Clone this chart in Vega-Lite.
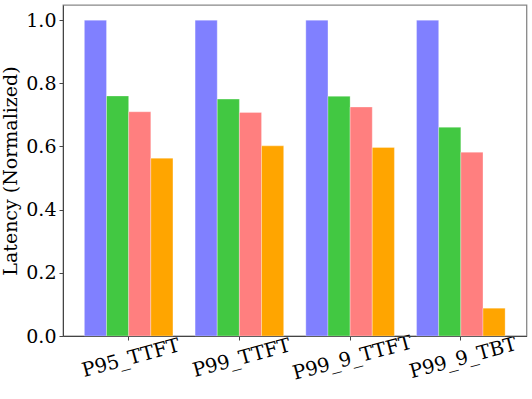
{
  "$schema": "https://vega.github.io/schema/vega-lite/v6.json",
  "autosize": {"type": "none"},
  "padding": {"left": 63, "top": 5, "right": 5, "bottom": 63},
  "width": 463.5,
  "height": 331,
  "background": "white",
  "config": {
    "font": "DejaVu Serif",
    "view": {"stroke": "#888888", "strokeWidth": 1.3},
    "axis": {"grid": false, "domainColor": "#444444", "tickColor": "#444444", "labelColor": "black", "titleColor": "black", "labelFont": "DejaVu Serif", "titleFont": "DejaVu Serif"}
  },
  "data": {
    "values": [
      {"metric": "P95_TTFT", "system": "S1", "value": 1.0},
      {"metric": "P95_TTFT", "system": "S2", "value": 0.76},
      {"metric": "P95_TTFT", "system": "S3", "value": 0.71},
      {"metric": "P95_TTFT", "system": "S4", "value": 0.563},
      {"metric": "P99_TTFT", "system": "S1", "value": 1.0},
      {"metric": "P99_TTFT", "system": "S2", "value": 0.75},
      {"metric": "P99_TTFT", "system": "S3", "value": 0.708},
      {"metric": "P99_TTFT", "system": "S4", "value": 0.602},
      {"metric": "P99_9_TTFT", "system": "S1", "value": 1.0},
      {"metric": "P99_9_TTFT", "system": "S2", "value": 0.759},
      {"metric": "P99_9_TTFT", "system": "S3", "value": 0.725},
      {"metric": "P99_9_TTFT", "system": "S4", "value": 0.597},
      {"metric": "P99_9_TBT", "system": "S1", "value": 1.0},
      {"metric": "P99_9_TBT", "system": "S2", "value": 0.661},
      {"metric": "P99_9_TBT", "system": "S3", "value": 0.582},
      {"metric": "P99_9_TBT", "system": "S4", "value": 0.088}
    ]
  },
  "mark": {"type": "bar", "stroke": "white", "strokeWidth": 0.6, "strokeOpacity": 0.5},
  "encoding": {
    "x": {
      "field": "metric", "type": "nominal", "sort": null,
      "scale": {"paddingInner": 0.2, "paddingOuter": 0.193},
      "axis": {"title": null, "labelAngle": -15, "labelAlign": "center", "labelBaseline": "top", "labelFontSize": 19.5, "labelPadding": 9, "tickSize": 4, "domain": true}
    },
    "xOffset": {"field": "system", "type": "nominal", "sort": null, "scale": {"paddingInner": 0, "paddingOuter": 0}},
    "y": {
      "field": "value", "type": "quantitative",
      "scale": {"domain": [0, 1.048], "nice": false},
      "axis": {"title": "Latency (Normalized)", "values": [0, 0.2, 0.4, 0.6, 0.8, 1.0], "format": ".1f", "labelFontSize": 19, "titleFontSize": 19, "titleFontWeight": "normal", "tickSize": 4, "labelPadding": 3, "titlePadding": 5}
    },
    "color": {
      "field": "system", "type": "nominal", "sort": null,
      "scale": {"range": ["#8080FF", "#42C842", "#FF7F7F", "#FFA500"]},
      "legend": null
    }
  }
}
